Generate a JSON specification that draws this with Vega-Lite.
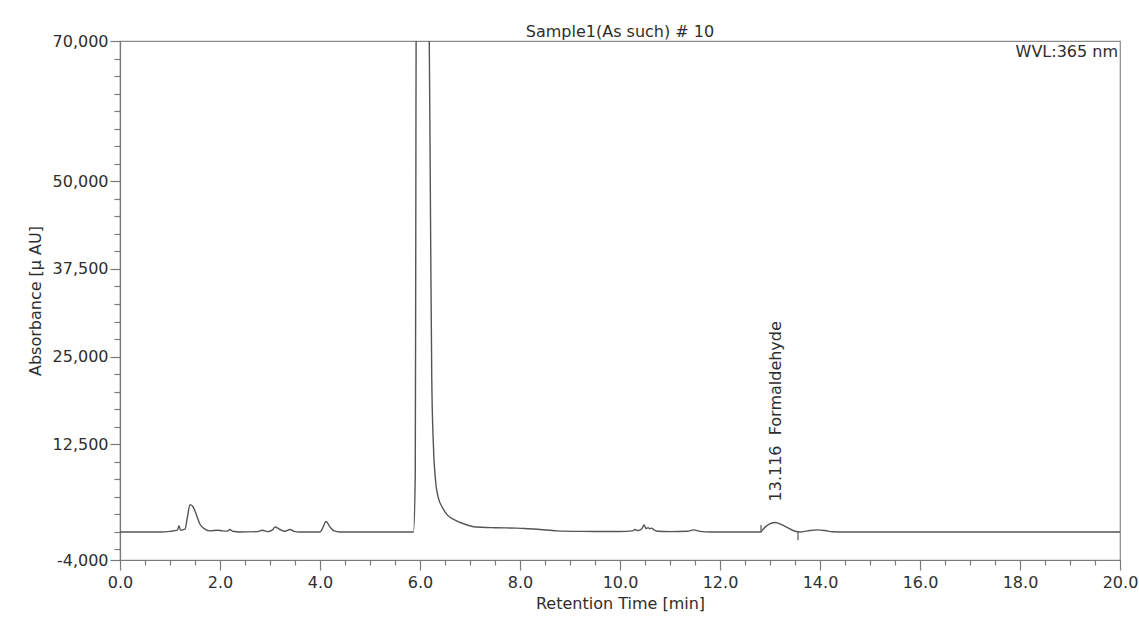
{
  "$schema": "https://vega.github.io/schema/vega-lite/v6.json",
  "width": 1000,
  "height": 519,
  "autosize": {"type": "none"},
  "padding": {"left": 120, "top": 41, "right": 19, "bottom": 58},
  "background": "white",
  "title": {
    "text": "Sample1(As such) # 10",
    "font": "DejaVu Sans",
    "fontSize": 16,
    "fontWeight": "normal",
    "color": "#2e2e2e",
    "anchor": "middle",
    "offset": -7
  },
  "config": {
    "view": {"stroke": "#8a8a8a", "strokeWidth": 1.2},
    "axis": {
      "grid": false,
      "labelFont": "DejaVu Sans",
      "labelFontSize": 16,
      "labelColor": "#2e2e2e",
      "titleFont": "DejaVu Sans",
      "titleFontSize": 16,
      "titleFontWeight": "normal",
      "titleColor": "#2e2e2e",
      "domainColor": "#7a7a7a",
      "domainWidth": 1.2,
      "tickColor": "#7a7a7a",
      "tickWidth": 1.2,
      "labelOverlap": false,
      "labelBound": false,
      "labelFlush": false
    }
  },
  "datasets": {
    "trace": [
      {"rt": 0.0, "au": 0}, {"rt": 0.8, "au": 0}, {"rt": 1.0, "au": 80}, {"rt": 1.15, "au": 250},
      {"rt": 1.18, "au": 900}, {"rt": 1.21, "au": 250}, {"rt": 1.3, "au": 400}, {"rt": 1.35, "au": 2200},
      {"rt": 1.4, "au": 3900}, {"rt": 1.45, "au": 3700}, {"rt": 1.5, "au": 3000}, {"rt": 1.55, "au": 2000},
      {"rt": 1.6, "au": 1100}, {"rt": 1.7, "au": 400}, {"rt": 1.8, "au": 150}, {"rt": 1.95, "au": 250},
      {"rt": 2.05, "au": 150}, {"rt": 2.15, "au": 120}, {"rt": 2.2, "au": 350}, {"rt": 2.25, "au": 100},
      {"rt": 2.4, "au": 0}, {"rt": 2.75, "au": 50}, {"rt": 2.85, "au": 250}, {"rt": 2.95, "au": 50},
      {"rt": 3.05, "au": 300}, {"rt": 3.1, "au": 700}, {"rt": 3.2, "au": 350}, {"rt": 3.3, "au": 100},
      {"rt": 3.4, "au": 350}, {"rt": 3.48, "au": 80}, {"rt": 3.6, "au": 0}, {"rt": 4.0, "au": 0},
      {"rt": 4.05, "au": 500}, {"rt": 4.12, "au": 1500}, {"rt": 4.2, "au": 700}, {"rt": 4.28, "au": 150},
      {"rt": 4.4, "au": 0}, {"rt": 5.87, "au": 0}, {"rt": 5.905, "au": 8000}, {"rt": 5.915, "au": 40000},
      {"rt": 5.925, "au": 80000}, {"rt": 6.05, "au": 100000}, {"rt": 6.18, "au": 75000}, {"rt": 6.21, "au": 45000},
      {"rt": 6.235, "au": 22000}, {"rt": 6.27, "au": 12000}, {"rt": 6.31, "au": 7400}, {"rt": 6.37, "au": 4800},
      {"rt": 6.44, "au": 3600}, {"rt": 6.55, "au": 2400}, {"rt": 6.7, "au": 1700}, {"rt": 6.9, "au": 1100},
      {"rt": 7.07, "au": 750}, {"rt": 7.5, "au": 600}, {"rt": 7.94, "au": 550}, {"rt": 8.1, "au": 500},
      {"rt": 8.4, "au": 350}, {"rt": 8.74, "au": 150}, {"rt": 9.2, "au": 80}, {"rt": 10.0, "au": 60},
      {"rt": 10.25, "au": 150}, {"rt": 10.3, "au": 350}, {"rt": 10.36, "au": 200}, {"rt": 10.44, "au": 500},
      {"rt": 10.48, "au": 1000}, {"rt": 10.52, "au": 500}, {"rt": 10.56, "au": 600}, {"rt": 10.6, "au": 450},
      {"rt": 10.63, "au": 550}, {"rt": 10.68, "au": 300}, {"rt": 10.75, "au": 100}, {"rt": 11.0, "au": 50},
      {"rt": 11.35, "au": 100}, {"rt": 11.47, "au": 300}, {"rt": 11.6, "au": 80}, {"rt": 11.8, "au": 0},
      {"rt": 12.82, "au": 0}, {"rt": 12.85, "au": 300}, {"rt": 13.1, "au": 1350}, {"rt": 13.3, "au": 800},
      {"rt": 13.5, "au": 100}, {"rt": 13.6, "au": 0}, {"rt": 13.75, "au": 150}, {"rt": 13.95, "au": 300},
      {"rt": 14.1, "au": 200}, {"rt": 14.25, "au": 20}, {"rt": 14.4, "au": 0}, {"rt": 20.0, "au": 0}
    ],
    "delims": [
      {"rt": 12.82, "lo": 0, "hi": 1000},
      {"rt": 13.56, "lo": 0, "hi": -1200}
    ],
    "peaks": [
      {"rt": 13.116, "au": 1350, "label": "13.116\u00a0 Formaldehyde"}
    ],
    "info": [
      {"rt": 20, "au": 70000, "label": "WVL:365 nm"}
    ]
  },
  "encoding": {
    "x": {
      "field": "rt",
      "type": "quantitative",
      "scale": {"domain": [0, 20], "nice": false, "zero": false},
      "axis": {
        "title": "Retention Time [min]",
        "values": [0,0.5,1,1.5,2,2.5,3,3.5,4,4.5,5,5.5,6,6.5,7,7.5,8,8.5,9,9.5,10,10.5,11,11.5,12,12.5,13,13.5,14,14.5,15,15.5,16,16.5,17,17.5,18,18.5,19,19.5,20],
        "labelExpr": "datum.value % 2 === 0 ? format(datum.value, '.1f') : ''",
        "tickSize": {"condition": {"test": "datum.value % 2 === 0", "value": 10}, "value": 5},
        "labelPadding": 4,
        "titlePadding": 5
      }
    },
    "y": {
      "field": "au",
      "type": "quantitative",
      "scale": {"domain": [-4000, 70000], "nice": false, "zero": false},
      "axis": {
        "title": "Absorbance [µ AU]",
        "values": [-4000,-2500,0,2500,5000,7500,10000,12500,15000,17500,20000,22500,25000,27500,30000,32500,35000,37500,40000,42500,45000,47500,50000,52500,55000,57500,60000,62500,65000,67500,70000],
        "labelExpr": "indexof([-4000,12500,25000,37500,50000,70000], datum.value) >= 0 ? replace(format(datum.value, ','), '\u2212', '-') : ''",
        "tickSize": {"condition": {"test": "indexof([-4000,12500,25000,37500,50000,70000], datum.value) >= 0", "value": 10}, "value": 6},
        "labelPadding": 2,
        "titlePadding": 9
      }
    }
  },
  "layer": [
    {
      "data": {"name": "trace"},
      "mark": {"type": "line", "color": "#555555", "strokeWidth": 1.4, "interpolate": "monotone", "clip": true}
    },
    {
      "data": {"name": "delims"},
      "mark": {"type": "rule", "color": "#555555", "strokeWidth": 1.2},
      "encoding": {
        "y": {"field": "lo", "type": "quantitative"},
        "y2": {"field": "hi"}
      }
    },
    {
      "data": {"name": "peaks"},
      "mark": {"type": "text", "angle": 270, "align": "left", "baseline": "middle", "dx": 21, "font": "DejaVu Sans", "fontSize": 16, "color": "#2e2e2e"},
      "encoding": {
        "text": {"field": "label"}
      }
    },
    {
      "data": {"name": "info"},
      "mark": {"type": "text", "align": "right", "baseline": "top", "dx": -2, "dy": 3, "font": "DejaVu Sans", "fontSize": 16, "color": "#2e2e2e"},
      "encoding": {
        "text": {"field": "label"}
      }
    }
  ]
}
